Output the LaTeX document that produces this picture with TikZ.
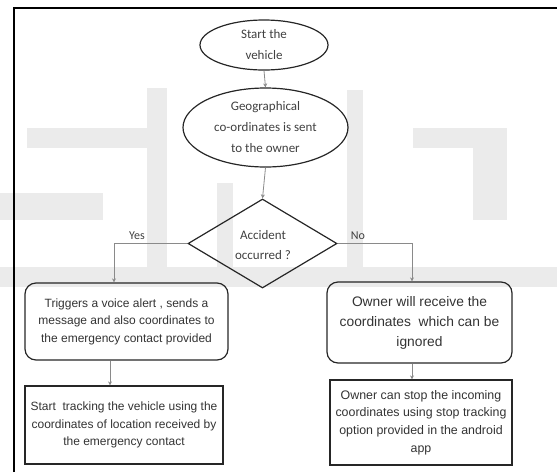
\documentclass[tikz,border=0pt]{standalone}
\usepackage{fontspec}
\newfontfamily\calfont{Carlito}
\newfontfamily\arifont{Liberation Sans}
\usetikzlibrary{shapes.geometric,arrows.meta}
\definecolor{wm}{HTML}{EBEBEB}
\definecolor{conn}{HTML}{8A8A8A}
\tikzset{
  shp/.style={draw=black!85,line width=1.2pt,inner sep=0pt,align=center},
  ell/.style={shp,ellipse,font=\calfont\fontsize{13}{21}\selectfont,text=black!75},
  rbox/.style={shp,rounded corners=11pt,font=\arifont\fontsize{12}{17.5}\selectfont,text=black!80},
  pbox/.style={shp,rectangle,font=\arifont\fontsize{12}{17.5}\selectfont,text=black!80},
  arr/.style={draw=conn,line width=0.8pt,-{Stealth[length=4pt,width=4pt]}},
  lbl/.style={font=\calfont\fontsize{12}{14}\selectfont,text=black!75,inner sep=0pt},
  wmk/.style={fill=wm,draw=none}
}
\begin{document}
\begin{tikzpicture}[x=1pt,y=-1pt]
\useasboundingbox (0,0) rectangle (557,472);
% watermark
\fill[wmk] (27,128) rectangle (167,148);
\fill[wmk] (147,88) rectangle (167,267);
\fill[wmk] (0,193) rectangle (103,220);
\fill[wmk] (0,267) rectangle (557,287);
\fill[wmk] (217,183) rectangle (233,267);
\fill[wmk] (347,90) rectangle (363,267);
\fill[wmk] (413,128) rectangle (507,148);
\fill[wmk] (473,128) rectangle (507,220);
% frame
\draw[line width=2pt] (14,472) -- (14,8) -- (557,8);
% nodes
\node[ell,minimum width=128pt,minimum height=50pt] (start) at (264,45) {Start the\\vehicle};
\node[ell,minimum width=165pt,minimum height=79pt] (geo) at (265.5,127.5) {Geographical\\co-ordinates is sent\\to the owner};
\node[shp,diamond,minimum width=149pt,minimum height=89pt] (dec) at (262.5,243.5) {};
\node[lbl,align=center,font=\calfont\fontsize{13}{20}\selectfont] (dect) at (263,245) {Accident\\occurred ?};
\node[rbox,minimum width=203pt,minimum height=77pt] (tl) at (126.5,321.5) {Triggers a voice alert , sends a\\message and also coordinates to\\the emergency contact provided};
\node[rbox,minimum width=185pt,minimum height=81pt,font=\arifont\fontsize{13.8}{20}\selectfont] (tr) at (419.5,322.5) {Owner will receive the\\coordinates \ which can be\\ignored};
\node[pbox,minimum width=198pt,minimum height=78pt] (bl) at (124,425) {Start \ tracking the vehicle using the\\coordinates of location received by\\the emergency contact};
\node[pbox,minimum width=182pt,minimum height=85pt,font=\arifont\fontsize{12.4}{17.7}\selectfont] (br) at (421,422.5) {Owner can stop the incoming\\coordinates using stop tracking\\option provided in the android\\app};
\node[lbl] (yes) at (137,236) {Yes};
\node[lbl] (no) at (358,236) {No};
% helper x positions
\coordinate (xyes) at (114,0);
\coordinate (xno) at (412,0);
\coordinate (xl) at (110,0);
% connectors
\draw[arr] (start.south) -- (geo.north);
\draw[arr] (geo.south) -- (dec.north);
\draw[arr] (dec.west) -| (tl.north -| xyes);
\draw[arr] (dec.east) -| (tr.north -| xno);
\draw[arr] (tl.south -| xl) -- (bl.north -| xl);
\draw[arr] (tr.south -| xno) -- (br.north -| xno);
\end{tikzpicture}
\end{document}
